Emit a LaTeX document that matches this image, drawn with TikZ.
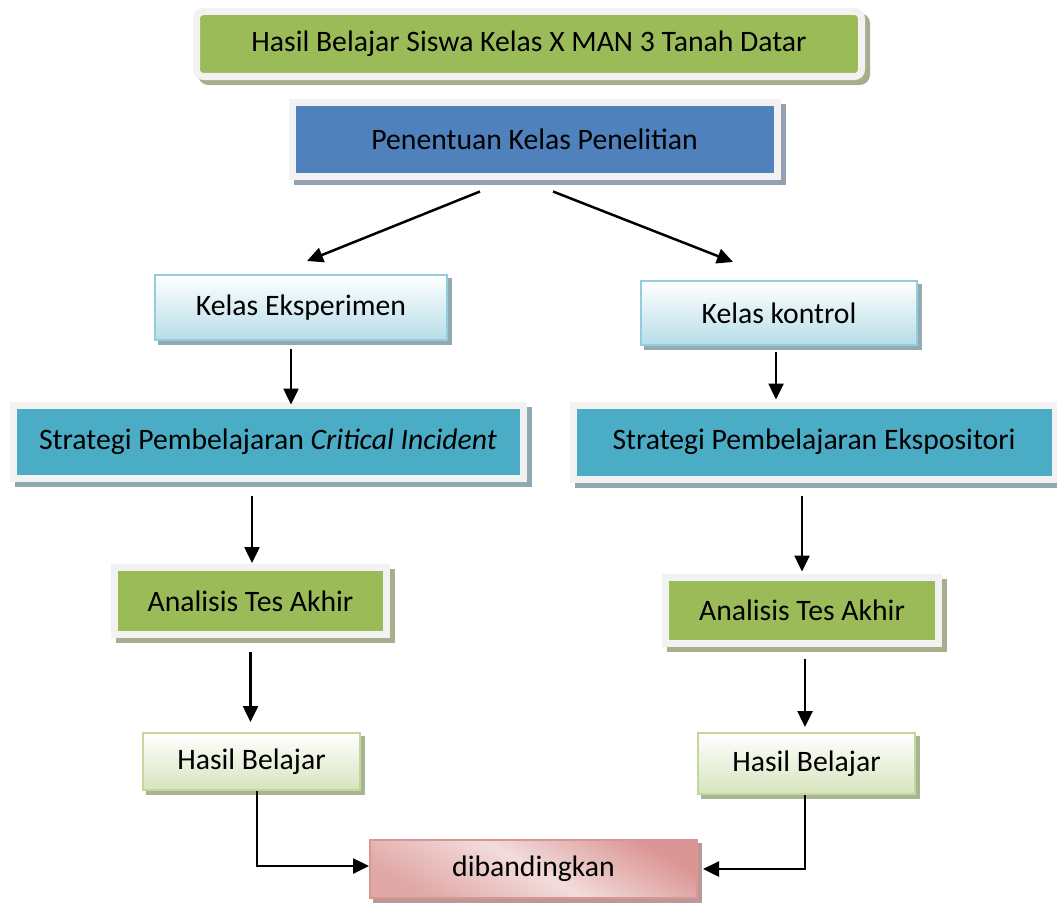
\documentclass[tikz,border=0pt]{standalone}
\usepackage{fontspec}
\setmainfont{Carlito}
\usepackage{xcolor}
\usepackage{tikz}
\usetikzlibrary{arrows.meta}
\definecolor{framegray}{HTML}{F2F2F2}
\definecolor{greenfill}{HTML}{9BBB59}
\definecolor{greenshade}{HTML}{A6AE8E}
\definecolor{bluefill}{HTML}{4F81BD}
\definecolor{blueshade}{HTML}{93A1B2}
\definecolor{cyanfill}{HTML}{4BACC6}
\definecolor{cyanshade}{HTML}{8FA9B2}
\definecolor{kelasline}{HTML}{93CDDD}
\definecolor{kelasbot}{HTML}{B7DDE8}
\definecolor{kelasshade}{HTML}{93AAB3}
\definecolor{hasilline}{HTML}{C3D69B}
\definecolor{hasilbot}{HTML}{D7E4BD}
\definecolor{hasilshade}{HTML}{A9B592}
\definecolor{pinkline}{HTML}{D99694}
\definecolor{pinklight}{HTML}{F2DCDB}
\definecolor{pinkdark}{HTML}{DA9694}
\definecolor{pinkshade}{HTML}{B99897}
\tikzset{
  boxtext/.style={inner sep=0pt, align=center, text=black,
                  font=\fontsize{16.9}{20}\selectfont},
  framebox/.style={boxtext, draw=framegray, line width=0.14cm},
  shadowed/.style={preaction={draw=#1, fill=#1, line width=0.14cm,
                   transform canvas={xshift=0.1cm, yshift=-0.1cm}}},
  thinshadow/.style={preaction={draw=#1, fill=#1, line width=0.04cm,
                     transform canvas={xshift=0.08cm, yshift=-0.08cm}}},
  titlebox/.style={framebox, fill=greenfill, rounded corners=0.14cm, shadowed=greenshade},
  bluebox/.style={framebox, fill=bluefill, shadowed=blueshade},
  cyanbox/.style={framebox, fill=cyanfill, shadowed=cyanshade},
  greenbox/.style={framebox, fill=greenfill, shadowed=greenshade},
  kelasbox/.style={boxtext, draw=kelasline, line width=0.04cm,
                   top color=white, bottom color=kelasbot, thinshadow=kelasshade},
  hasilbox/.style={boxtext, draw=hasilline, line width=0.04cm,
                   top color=white, bottom color=hasilbot, thinshadow=hasilshade},
  bandingbox/.style={boxtext, draw=pinkline, line width=0.04cm,
                     top color=pinkdark, bottom color=pinkdark!75!pinklight,
                     middle color=pinklight, shading angle=-30, thinshadow=pinkshade},
  arr/.style={-{Triangle[width=0.3cm,length=0.32cm]}, line width=0.05cm, black},
}

\begin{document}
\begin{tikzpicture}
  \useasboundingbox (0,0) rectangle (21.14,-18.1);

  % --- top row ---
  \node[titlebox, minimum width=13.30cm, minimum height=1.30cm] (judul) at (10.58,-0.88)
    {Hasil Belajar Siswa Kelas X MAN 3 Tanah Datar};
  \node[bluebox, minimum width=9.70cm, minimum height=1.48cm] (penentuan) at (10.69,-2.78)
    {Penentuan Kelas Penelitian};

  % --- kelas ---
  \node[kelasbox, minimum width=5.84cm, minimum height=1.30cm] (kelasE) at (6.02,-6.15)
    {Kelas Eksperimen};
  \node[kelasbox, minimum width=5.52cm, minimum height=1.28cm] (kelasK) at (15.58,-6.26)
    {Kelas kontrol};

  % --- strategi ---
  \node[cyanbox, minimum width=10.20cm, minimum height=1.46cm] (stratCI) at (5.36,-8.83)
    {Strategi Pembelajaran \textit{Critical Incident}};
  \node[cyanbox, minimum width=9.64cm, minimum height=1.48cm] (stratE) at (16.28,-8.84)
    {Strategi Pembelajaran Ekspositori};

  % --- analisis ---
  \node[greenbox, minimum width=5.44cm, minimum height=1.34cm] (anaL) at (5.01,-12.02)
    {Analisis Tes Akhir};
  \node[greenbox, minimum width=5.46cm, minimum height=1.32cm] (anaR) at (16.04,-12.21)
    {Analisis Tes Akhir};

  % --- hasil ---
  \node[hasilbox, minimum width=4.34cm, minimum height=1.14cm] (hasilL) at (5.03,-15.23)
    {Hasil Belajar};
  \node[hasilbox, minimum width=4.34cm, minimum height=1.22cm] (hasilR) at (16.13,-15.27)
    {Hasil Belajar};

  % --- dibandingkan ---
  \node[bandingbox, minimum width=6.54cm, minimum height=1.16cm] (banding) at (10.67,-17.38)
    {dibandingkan};

  % --- arrows ---
  \draw[arr] ([xshift=-1.09cm, yshift=-0.24cm]penentuan.south)
          -- ([xshift=0.12cm, yshift=0.26cm]kelasE.north);
  \draw[arr] ([xshift=0.37cm, yshift=-0.24cm]penentuan.south)
          -- ([xshift=-0.92cm, yshift=0.36cm]kelasK.north);
  \draw[arr] ([xshift=-0.2cm, yshift=-0.16cm]kelasE.south)
          -- ([xshift=-0.2cm, yshift=-0.06cm]kelasE.south |- stratCI.north);
  \draw[arr] ([xshift=-0.06cm, yshift=-0.12cm]kelasK.south)
          -- ([xshift=-0.06cm, yshift=0.04cm]kelasK.south |- stratE.north);
  \draw[arr] ([xshift=-0.32cm, yshift=-0.28cm]stratCI.south)
          -- ([xshift=-0.32cm, yshift=0.02cm]stratCI.south |- anaL.north);
  \draw[arr] ([xshift=-0.24cm, yshift=-0.26cm]stratE.south)
          -- ([xshift=-0.24cm, yshift=0.05cm]stratE.south |- anaR.north);
  \draw[arr] ([yshift=-0.27cm]anaL.south)
          -- ([yshift=0.2cm]anaL.south |- hasilL.north);
  \draw[arr] ([xshift=0.06cm, yshift=-0.23cm]anaR.south)
          -- ([xshift=0.06cm, yshift=0.1cm]anaR.south |- hasilR.north);
  \draw[arr] ([xshift=0.11cm]hasilL.south) |- ([yshift=0.06cm]banding.west);
  \draw[arr] ([xshift=-0.03cm]hasilR.south) |- ([xshift=0.1cm]banding.east);
\end{tikzpicture}
\end{document}
